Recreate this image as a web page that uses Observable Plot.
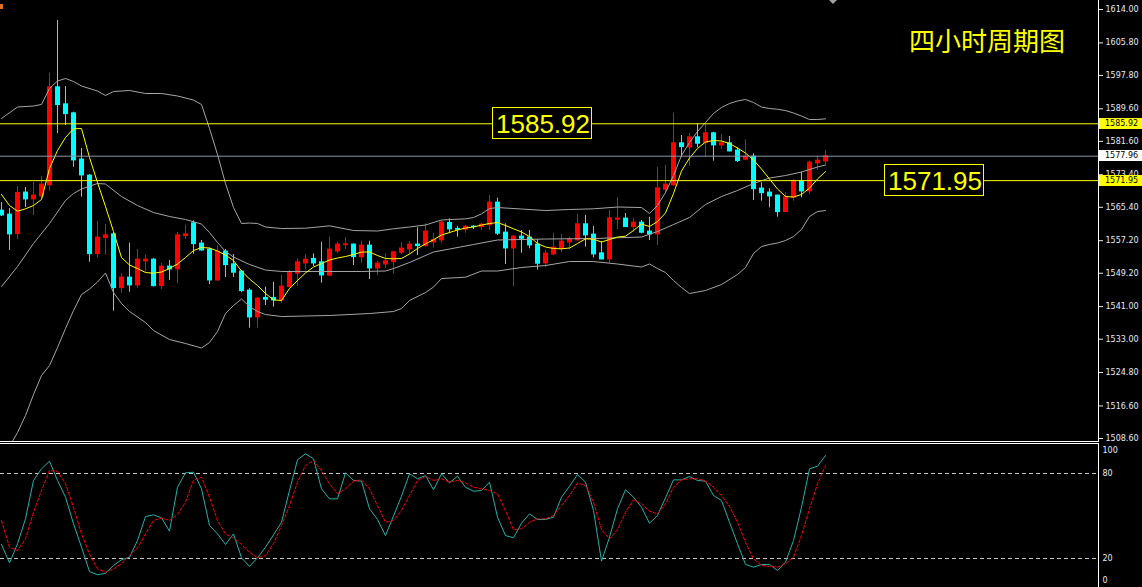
<!DOCTYPE html>
<html>
<head>
<meta charset="utf-8">
<script src="https://cdn.jsdelivr.net/npm/d3@7"></script>
<script src="https://cdn.jsdelivr.net/npm/@observablehq/plot@0.6"></script>
<style>
  html, body { margin: 0; padding: 0; background: #000; }
  #chart { position: relative; width: 1142px; height: 587px; background: #000; overflow: hidden; }
  #chart svg { display: block; }
  .sep { width: 1099px; height: 1px; border-top: 1px solid #fff; border-bottom: 1px solid #fff; }
  .ovl { position: absolute; box-sizing: border-box; white-space: nowrap; }
</style>
</head>
<body>
<div id="chart"></div>
<script>
// ---------- DATA ----------
const candleOpen = [1564.61,1563.63,1558.79,1569.04,1567.32,1568.05,1570.76,1594.91,1590.73,1588.52,
  1577.15,1573.21,1553.88,1557.81,1558.79,1545.52,1548.15,1546.19,1552.08,1552.57,
  1546.02,1550.85,1550.12,1558.30,1561.49,1556.51,1555.03,1547.41,1554.54,1551.42,
  1549.63,1544.96,1538.32,1543.16,1543.16,1542.50,1545.77,1549.06,1551.59,1552.75,
  1551.91,1548.57,1554.54,1556.09,1556.26,1553.07,1556.01,1550.36,1551.35,1551.91,
  1554.22,1555.03,1556.26,1555.84,1556.75,1557.24,1561.59,1560.12,1559.87,1560.68,
  1560.51,1560.93,1566.58,1559.21,1555.28,1558.23,1557.98,1556.26,1551.59,1553.80,
  1555.10,1556.75,1557.24,1561.25,1558.72,1554.12,1552.57,1562.33,1562.65,1560.51,
  1561.66,1559.45,1558.72,1569.70,1570.76,1581.15,1580.09,1582.62,1581.15,1583.61,
  1580.58,1581.15,1579.36,1577.07,1577.88,1570.02,1569.04,1568.30,1564.20,1567.74,
  1571.81,1569.28,1576.17,1576.66];
const candleHigh = [1566.58,1565.10,1570.51,1570.26,1571.49,1572.97,1598.35,1611.30,1595.08,1588.77,
  1579.85,1573.46,1561.91,1561.17,1559.13,1549.13,1556.58,1555.03,1553.73,1552.80,
  1551.59,1552.33,1559.21,1561.00,1562.08,1557.24,1555.35,1556.01,1555.03,1553.80,
  1549.80,1545.40,1543.20,1545.77,1547.00,1548.64,1549.87,1552.75,1553.80,1553.97,
  1556.83,1558.06,1556.83,1557.91,1556.40,1557.07,1557.07,1552.08,1553.97,1554.61,
  1556.75,1557.00,1560.36,1561.35,1559.04,1562.08,1562.57,1560.68,1560.93,1560.93,
  1561.49,1568.30,1567.64,1561.35,1558.47,1559.70,1559.70,1557.41,1554.78,1559.04,
  1558.72,1558.06,1563.71,1563.38,1560.68,1557.00,1564.61,1567.74,1563.88,1562.65,
  1562.16,1562.97,1575.18,1575.67,1588.52,1583.04,1583.61,1585.92,1585.92,1583.85,
  1583.29,1582.80,1580.00,1581.98,1578.55,1571.42,1569.94,1568.40,1568.96,1572.16,
  1574.02,1576.73,1577.96,1579.36];
const candleLow = [1563.14,1554.78,1557.49,1565.35,1563.38,1567.56,1569.36,1583.53,1585.50,1575.25,
  1567.88,1551.91,1552.89,1553.63,1539.87,1544.29,1544.54,1545.52,1549.31,1545.80,
  1545.20,1547.41,1546.68,1557.49,1553.88,1554.61,1546.43,1547.20,1548.15,1548.15,
  1544.39,1535.70,1535.70,1541.27,1540.85,1541.84,1545.62,1545.94,1550.04,1550.85,
  1546.75,1548.47,1553.98,1555.03,1551.10,1551.66,1547.66,1548.64,1550.36,1548.96,
  1553.80,1553.80,1553.56,1555.60,1555.35,1556.58,1558.89,1558.06,1559.03,1559.95,
  1559.70,1559.70,1558.47,1551.35,1545.94,1554.12,1555.19,1549.99,1550.61,1553.56,
  1554.29,1555.03,1557.17,1555.60,1552.97,1552.50,1551.66,1559.95,1560.44,1559.28,
  1558.89,1557.24,1556.01,1568.72,1570.60,1577.71,1575.42,1580.02,1577.71,1576.73,
  1579.60,1579.00,1576.41,1577.00,1567.07,1566.90,1565.28,1562.97,1564.10,1566.90,
  1567.74,1568.55,1574.44,1575.84];
const candleClose = [1563.38,1558.72,1568.96,1567.32,1568.30,1571.00,1594.91,1590.49,1588.27,1576.90,
  1573.21,1553.88,1557.98,1558.54,1545.52,1548.15,1546.19,1552.57,1552.57,1546.02,
  1550.85,1550.12,1558.54,1558.79,1556.33,1554.78,1547.41,1554.54,1551.17,1549.31,
  1544.79,1538.32,1542.99,1542.67,1542.50,1545.94,1549.45,1551.91,1552.57,1551.59,
  1548.64,1555.03,1556.26,1556.33,1553.14,1556.01,1550.36,1551.59,1552.16,1554.37,
  1555.28,1556.26,1555.84,1559.45,1557.41,1561.66,1559.95,1559.87,1560.68,1560.51,
  1561.17,1566.58,1558.89,1555.28,1558.23,1557.66,1556.01,1551.52,1554.05,1555.52,
  1556.99,1557.49,1561.25,1558.47,1553.80,1552.57,1562.72,1562.65,1560.51,1561.66,
  1559.13,1558.72,1570.09,1571.00,1581.15,1580.17,1582.62,1581.00,1583.61,1580.58,
  1581.15,1579.11,1576.73,1577.88,1569.84,1568.86,1568.05,1564.20,1567.88,1571.81,
  1569.28,1576.41,1576.90,1577.96];

// yellow moving average, one value per candle
const maValues = [1568.54,1565.84,1564.44,1565.03,1565.84,1567.32,1574.93,1579.36,1582.55,1584.69,
  1584.76,1577.63,1571.49,1565.60,1559.45,1553.06,1551.22,1550.36,1549.38,1549.21,
  1549.50,1550.36,1551.47,1553.06,1554.78,1555.52,1555.40,1554.66,1553.68,1552.33,
  1549.75,1547.78,1546.19,1544.22,1542.67,1542.50,1545.45,1547.41,1549.26,1550.73,
  1551.59,1552.45,1552.94,1553.31,1553.80,1554.42,1554.42,1553.56,1552.82,1552.75,
  1552.82,1553.93,1555.28,1556.43,1557.42,1558.59,1559.21,1559.82,1560.31,1560.56,
  1561.05,1561.42,1561.66,1560.93,1560.12,1559.33,1558.22,1556.50,1555.65,1555.28,
  1555.20,1555.40,1556.50,1557.66,1557.56,1556.87,1557.49,1558.10,1558.30,1559.70,
  1561.30,1560.68,1561.91,1564.00,1568.79,1574.32,1577.51,1579.85,1581.45,1581.81,
  1581.69,1581.08,1579.97,1578.74,1577.02,1574.81,1572.35,1569.90,1568.05,1567.93,
  1568.55,1570.14,1572.35,1574.20];

// Bollinger bands, read at these candle indices
const upperIdx = [0,2,4,5,6,7,8,9,10,12,13,14,16,18,20,22,24,25,26,27,28,29,30,31,32,33,35,38,41,44,47,49,51,53,55,58,59,60,61,62,65,68,71,74,77,80,81,82,83,84,85,86,87,88,89,90,91,92,93,94,95,96,97,98,99,100,101,102,103];
const upperVal = [1587.22,1590.04,1590.29,1590.66,1594.59,1596.43,1597.05,1596.31,1595.20,1593.97,1592.87,1593.85,1594.10,1593.36,1593.36,1592.75,1591.76,1590.66,1584.76,1578.37,1571.25,1565.35,1561.42,1561.54,1561.42,1560.56,1560.19,1560.26,1560.85,1559.70,1559.58,1560.12,1560.56,1561.05,1562.28,1562.57,1562.89,1563.80,1565.10,1565.35,1564.98,1564.61,1564.86,1565.03,1565.47,1565.35,1563.88,1565.84,1569.04,1573.21,1578.13,1581.32,1584.02,1586.24,1588.45,1589.92,1590.90,1591.52,1591.89,1591.15,1590.04,1589.67,1589.50,1589.18,1588.57,1587.83,1586.97,1586.97,1587.14];
const middleIdx = [0,2,4,6,8,9,10,12,13,15,17,19,21,23,25,26,27,28,29,31,33,35,40,45,48,49,51,54,56,59,62,65,68,74,80,82,84,86,88,90,92,94,96,98,100,102,103];
const middleVal = [1545.94,1550.85,1556.51,1561.42,1567.07,1568.79,1569.90,1571.25,1571.12,1568.05,1565.84,1564.12,1563.14,1562.40,1561.30,1559.21,1556.75,1554.54,1553.19,1551.35,1549.99,1549.63,1549.63,1549.63,1549.75,1550.36,1551.84,1554.42,1555.15,1556.26,1557.37,1557.49,1557.61,1557.73,1558.10,1559.45,1561.17,1562.89,1566.09,1568.05,1569.53,1571.25,1572.60,1573.21,1574.07,1575.30,1575.79];
const lowerIdx = [1,2,3,4,5,6,7,8,9,10,11,12,13,14,15,16,18,19,21,23,25,26,27,28,29,30,31,32,33,35,41,46,49,50,51,53,54,55,58,60,62,65,68,71,74,77,80,81,82,83,84,85,86,87,88,90,92,93,94,95,96,97,98,99,100,101,102,103];
const lowerVal = [1506.63,1510.07,1514.25,1519.40,1524.07,1526.53,1530.95,1535.62,1540.04,1543.97,1545.32,1547.05,1549.26,1544.47,1541.76,1539.80,1537.10,1535.13,1532.92,1531.94,1530.83,1532.18,1534.88,1539.30,1541.27,1542.87,1541.03,1539.80,1539.06,1538.57,1538.82,1539.30,1539.80,1540.54,1542.51,1544.47,1545.82,1547.90,1548.23,1549.75,1549.75,1550.61,1551.10,1552.08,1552.08,1551.47,1550.73,1551.47,1550.36,1549.38,1547.41,1545.70,1544.22,1544.59,1544.96,1546.43,1548.89,1550.61,1554.05,1555.77,1556.26,1556.63,1557.24,1558.22,1559.95,1563.14,1564.37,1564.61];

// Stochastic oscillator, one value per candle
const stochK = [29.9,16.9,30.4,48.0,75.1,83.3,88.7,75.1,63.3,44.5,
  28.0,10.8,8.5,9.6,15.1,19.1,20.9,32.7,49.6,50.8,
  48.7,39.3,70.3,80.5,80.9,69.2,43.3,37.4,29.9,37.4,
  20.5,14.4,20.5,28.0,36.7,45.6,68.0,89.7,93.9,90.4,
  69.2,62.1,62.1,80.5,75.1,74.6,55.1,47.5,36.2,50.0,
  64.0,79.8,76.3,78.6,68.5,79.8,73.4,78.1,70.3,67.5,
  68.0,73.9,49.2,36.2,34.6,44.9,51.5,47.5,47.5,49.2,
  63.3,71.0,79.3,73.9,53.9,18.1,35.0,55.1,68.5,63.3,
  56.2,44.9,50.4,62.8,75.5,75.5,77.9,75.1,74.6,64.5,
  60.9,45.6,30.4,15.8,13.9,15.8,15.8,11.5,17.4,32.7,
  56.2,83.3,85.2,92.7];
const stochD = [46.8,28.0,25.6,33.9,52.7,68.0,82.1,81.6,72.7,56.2,
  37.4,23.3,12.7,10.3,12.7,16.3,22.1,27.5,37.4,46.8,
  48.7,46.8,51.1,59.8,75.1,77.4,63.3,46.8,37.4,34.6,
  29.9,24.4,20.5,22.1,30.4,43.3,57.4,73.9,85.6,89.2,
  82.1,72.7,65.7,69.2,74.6,75.5,69.2,57.4,45.6,46.8,
  54.0,64.5,75.1,77.9,75.1,76.3,73.9,75.1,73.4,70.3,
  69.2,68.0,65.7,53.9,40.3,41.0,45.6,48.0,48.0,50.4,
  57.4,64.5,73.2,71.5,59.8,40.3,33.9,40.3,52.7,61.4,
  58.6,53.4,51.5,58.6,70.3,75.5,76.3,76.3,74.6,70.3,
  64.5,56.7,45.6,31.5,19.8,15.1,14.4,13.9,16.3,20.9,
  36.2,55.1,72.7,85.6];

const priceTicks = [1614.00,1605.80,1597.80,1589.60,1581.60,1573.40,1565.40,1557.20,1549.20,1541.00,1533.00,1524.80,1516.60,1508.60];
const yellowLevels = [1585.92, 1571.95];
const bidLevel = 1577.96;
const stochLevels = [80, 20];
const titleText = "四小时周期图";

// ---------- BUILD ----------
const candles = candleOpen.map((o, i) => ({i, o, h: candleHigh[i], l: candleLow[i], c: candleClose[i]}));
const maData = maValues.map((v, i) => ({i, v}));
const upperData = upperIdx.map((i, k) => ({i, v: upperVal[k]}));
const middleData = middleIdx.map((i, k) => ({i, v: middleVal[k]}));
const lowerData = lowerIdx.map((i, k) => ({i, v: lowerVal[k]}));
const kData = stochK.map((v, i) => ({i, v}));
const dData = stochD.map((v, i) => ({i, v}));

const W = 1142, MR = 44;
const xDomain = [-0.125, 137.125];   // 8 px per bar, bar 0 at x = 1
const axisColor = "#e4ecfa";
const font = {fontFamily: "DejaVu Sans, sans-serif", fontSize: "8px", background: "#000", overflow: "visible"};
const candleColor = d => d.c >= d.o ? "#ff0000" : "#00ffff";
const bandColor = "#a6a6a6";
const axisOpts = {anchor: "right", color: axisColor, fontSize: 8, label: null};

const mainPlot = Plot.plot({
  width: W, height: 441,
  marginLeft: 0, marginRight: MR, marginTop: 0, marginBottom: 0,
  style: font,
  color: {type: "identity"},
  x: {domain: xDomain, axis: null},
  y: {domain: [1508.6, 1614], range: [438, 9], axis: null, label: null},
  marks: [
    Plot.ruleX(candles, {x: "i", y1: "l", y2: "h", stroke: candleColor}),
    Plot.ruleX(candles, {x: "i", y1: d => Math.max(d.o, d.c) + 0.1, y2: d => Math.min(d.o, d.c) - 0.1,
      stroke: candleColor, strokeWidth: 5}),
    Plot.line(upperData, {x: "i", y: "v", stroke: bandColor, strokeWidth: 1, clip: true}),
    Plot.line(middleData, {x: "i", y: "v", stroke: bandColor, strokeWidth: 1, clip: true}),
    Plot.line(lowerData, {x: "i", y: "v", stroke: bandColor, strokeWidth: 1, clip: true}),
    Plot.line(maData, {x: "i", y: "v", stroke: "#ffff00", strokeWidth: 1, clip: true}),
    Plot.ruleY(yellowLevels, {stroke: "#ffff00", strokeWidth: 1}),
    Plot.ruleY([bidLevel], {stroke: "#8a96a8", strokeWidth: 1}),
    Plot.axisY(priceTicks, {...axisOpts, tickSize: 4, tickPadding: 3, tickFormat: d => d.toFixed(2)}),
    Plot.ruleX([xDomain[1]], {stroke: "#ffffff"})
  ]
});

const stochPlot = Plot.plot({
  width: W, height: 143,
  marginLeft: 0, marginRight: MR, marginTop: 0, marginBottom: 0,
  style: font,
  x: {domain: xDomain, axis: null},
  y: {domain: [0, 100], range: [142.33, 0.67], axis: null, label: null},
  marks: [
    Plot.ruleY(stochLevels, {stroke: "#c8c8c8", strokeDasharray: "4,3"}),
    Plot.line(kData, {x: "i", y: "v", stroke: "#20b2aa", strokeWidth: 1, clip: true}),
    Plot.line(dData, {x: "i", y: "v", stroke: "#ff0000", strokeWidth: 1, strokeDasharray: "3,2", clip: true}),
    Plot.axisY(stochLevels, {...axisOpts, tickSize: 0, tickPadding: 4}),
    Plot.axisY([100], {...axisOpts, tickSize: 0, tickPadding: 4, dy: 5.3}),
    Plot.axisY([0], {...axisOpts, tickSize: 0, tickPadding: 4, dy: -6.8}),
    Plot.ruleX([xDomain[1]], {stroke: "#ffffff"})
  ]
});

const chart = document.getElementById("chart");
chart.appendChild(mainPlot);
const sep = document.createElement("div");
sep.className = "sep";
chart.appendChild(sep);
chart.appendChild(stochPlot);

// ---------- OVERLAYS (labels) ----------
const yS = mainPlot.scale("y");
function addDiv(text, css) {
  const d = document.createElement("div");
  d.className = "ovl";
  d.textContent = text;
  Object.assign(d.style, css);
  chart.appendChild(d);
  return d;
}
// right-side price tags
function tag(v, bg) {
  addDiv(v.toFixed(2), {left: "1099px", top: (yS.apply(v) - 5.5) + "px", width: "43px", height: "11px",
    background: bg, color: "#000", font: "8px 'DejaVu Sans', sans-serif", lineHeight: "11px", paddingLeft: "6px"});
}
tag(yellowLevels[0], "#ffff00");
tag(bidLevel, "#ffffff");
tag(yellowLevels[1], "#ffff00");

// big boxed labels on the chart
function bigLabel(v, left) {
  addDiv(v.toFixed(2), {left: left + "px", top: (yS.apply(v) - 16) + "px", width: "100px", height: "32px",
    border: "1px solid #ffff00", background: "#000", color: "#ffff00",
    font: "26px 'Liberation Sans', Arial, sans-serif", lineHeight: "28px", paddingTop: "2px", paddingLeft: "3px"});
}
bigLabel(yellowLevels[0], 492);
bigLabel(yellowLevels[1], 884);

// title
addDiv(titleText, {left: "909px", top: "27px", color: "#ffff00",
  font: "26px 'Noto Sans CJK SC', sans-serif", lineHeight: "26px"});

// small chart-shift marker at top and corner icon
const tri = document.createElement("div");
Object.assign(tri.style, {position: "absolute", left: "829px", top: "0px", width: "0", height: "0",
  borderLeft: "4px solid transparent", borderRight: "4px solid transparent", borderTop: "4px solid #a0a0a0"});
chart.appendChild(tri);
const icon = document.createElement("div");
Object.assign(icon.style, {position: "absolute", left: "0px", top: "4px", width: "3px", height: "5px",
  background: "#e07020"});
chart.appendChild(icon);
</script>
</body>
</html>
